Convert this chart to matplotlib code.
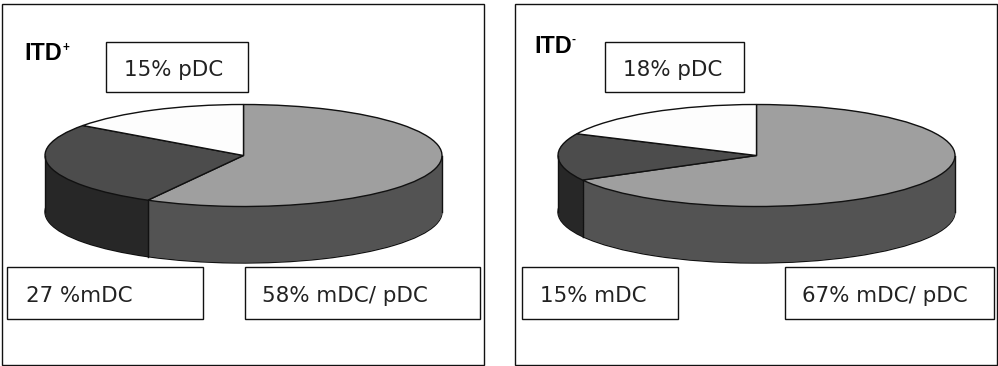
import numpy as np
import matplotlib
matplotlib.use('agg')
import matplotlib.pyplot as plt
from matplotlib.patches import Rectangle

# share of each slice, clockwise from 12 o'clock
slices = ['mDC/ pDC', 'mDC', 'pDC']
itd_pos = [58, 27, 15]
itd_neg = [67, 15, 18]

labels_pos = ['15% pDC', '27 %mDC', '58% mDC/ pDC']
labels_neg = ['18% pDC', '15% mDC', '67% mDC/ pDC']

top_colors = ['#9f9f9f', '#4c4c4c', '#fdfdfd']
side_colors = ['#535353', '#272727', '#808080']

W, H = 998, 366
RX, RY, DEPTH = 198.5, 51, 56.5
LINE = '#111111'
LW = 1.0


def draw_pie(fig, cx, cy, values):
    pad = 3
    left = (cx - RX - pad) / W
    bottom = 1 - (cy + RY + DEPTH + pad) / H
    ax = fig.add_axes([left, bottom, (2 * RX + 2 * pad) / W, (2 * RY + DEPTH + 2 * pad) / H])
    d = DEPTH / RY
    # side wall is a stack of pies, lowest first
    for i, off in enumerate(np.linspace(d, 0, 140)):
        edge = LINE if i == 0 else 'none'
        ax.pie(values, colors=side_colors, startangle=90, counterclock=False,
               center=(0, -off), wedgeprops={'edgecolor': edge, 'linewidth': LW})
    wedges, _ = ax.pie(values, colors=top_colors, startangle=90, counterclock=False,
                       wedgeprops={'edgecolor': LINE, 'linewidth': LW})
    for x in (-1, 1):
        ax.plot([x, x], [0, -d], color=LINE, lw=LW, zorder=5)
    # edge between the two front slices
    a = np.deg2rad(wedges[0].theta1)
    ax.plot([np.cos(a), np.cos(a)], [np.sin(a), np.sin(a) - d], color=LINE, lw=LW, zorder=5)
    ax.set_aspect('auto')
    ax.set_xlim(-1 - pad / RX, 1 + pad / RX)
    ax.set_ylim(-1 - d - pad / RY, 1 + pad / RY)
    ax.axis('off')


def box(ax, x0, y0, x1, y1, **kw):
    ax.add_patch(Rectangle((x0, y0), x1 - x0, y1 - y0, **kw))


fig = plt.figure(figsize=(W / 100, H / 100), dpi=100)
bg = fig.add_axes([0, 0, 1, 1])
bg.set_xlim(0, W)
bg.set_ylim(H, 0)
bg.axis('off')

box(bg, 2.5, 3.5, 484.5, 365, fc='white', ec=LINE, lw=1)
box(bg, 515.5, 3.5, 997.5, 365, fc='white', ec=LINE, lw=1)

draw_pie(fig, 243.5, 155.5, itd_pos)
draw_pie(fig, 756.5, 155.5, itd_neg)

# overlay for the boxes and the text
top = fig.add_axes([0, 0, 1, 1])
top.set_xlim(0, W)
top.set_ylim(H, 0)
top.axis('off')

boxes_pos = [(106, 41.5, 248.5, 91.5), (7.5, 267, 203.5, 319), (245, 267, 480.5, 319)]
boxes_neg = [(605, 41.5, 744.5, 91.5), (522, 267, 678.5, 319), (785.5, 267, 994, 319)]
text_x_pos = [124, 26, 262]
text_x_neg = [623, 540, 802]
text_y = [76.5, 301.5, 301.5]

for bxs, labs, xs in [(boxes_pos, labels_pos, text_x_pos), (boxes_neg, labels_neg, text_x_neg)]:
    for b, lab, x, y in zip(bxs, labs, xs, text_y):
        box(top, *b, fc='white', ec=LINE, lw=1)
        top.text(x, y, lab, fontsize=15.4, color='#222222', va='baseline', ha='left',
                 family='DejaVu Sans')

top.text(24, 60, 'ITD', fontsize=16.8, fontweight='bold', family='Liberation Sans', va='baseline')
top.text(62.5, 51, '+', fontsize=8.5, fontweight='bold', family='Liberation Sans', va='baseline')
top.text(534, 53, 'ITD', fontsize=16.8, fontweight='bold', family='Liberation Sans', va='baseline')
top.text(572, 42.5, '-', fontsize=8.5, fontweight='bold', family='Liberation Sans', va='baseline')

plt.savefig('out.png', dpi=100)
